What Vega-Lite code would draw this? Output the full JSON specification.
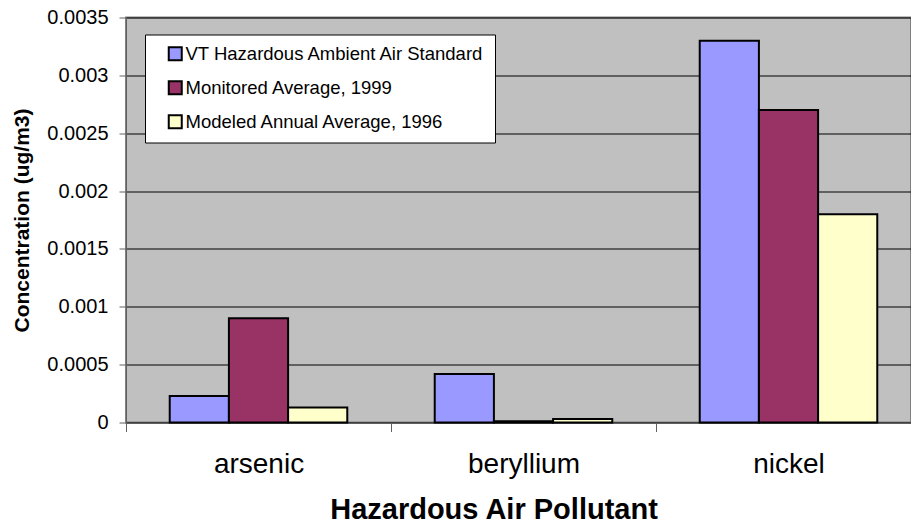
{
  "$schema": "https://vega.github.io/schema/vega-lite/v6.json",
  "width": 785,
  "height": 405,
  "autosize": {"type": "none"},
  "padding": {"left": 126, "top": 17.5, "right": 0, "bottom": 104.5},
  "background": "white",
  "config": {
    "font": "Liberation Sans",
    "view": {"fill": "#C0C0C0", "stroke": "#808080", "strokeWidth": 2}
  },
  "data": {
    "values": [
      {"pollutant": "arsenic", "series": "VT Hazardous Ambient Air Standard", "value": 0.00023},
      {"pollutant": "arsenic", "series": "Monitored Average, 1999", "value": 0.0009},
      {"pollutant": "arsenic", "series": "Modeled Annual Average, 1996", "value": 0.00013},
      {"pollutant": "beryllium", "series": "VT Hazardous Ambient Air Standard", "value": 0.00042},
      {"pollutant": "beryllium", "series": "Monitored Average, 1999", "value": 0.00001},
      {"pollutant": "beryllium", "series": "Modeled Annual Average, 1996", "value": 0.00003},
      {"pollutant": "nickel", "series": "VT Hazardous Ambient Air Standard", "value": 0.0033},
      {"pollutant": "nickel", "series": "Monitored Average, 1999", "value": 0.0027},
      {"pollutant": "nickel", "series": "Modeled Annual Average, 1996", "value": 0.0018}
    ]
  },
  "mark": {"type": "bar", "stroke": "black", "strokeWidth": 2},
  "encoding": {
    "x": {
      "field": "pollutant",
      "type": "nominal",
      "sort": ["arsenic", "beryllium", "nickel"],
      "scale": {"range": [0, 795], "paddingInner": 0.33, "paddingOuter": 0.165},
      "axis": {
        "title": "Hazardous Air Pollutant",
        "labelAngle": 0,
        "labelFontSize": 28,
        "labelColor": "black",
        "labelBaseline": "alphabetic",
        "labelPadding": 41,
        "tickSize": 9,
        "tickColor": "#606060",
        "tickOffset": -132.5,
        "labelOffset": 132.5,
        "domain": false,
        "titleFontSize": 29,
        "titleFontWeight": "bold",
        "titleColor": "black",
        "titleX": 367.5,
        "titleY": 95.5,
        "titleAlign": "center",
        "titleBaseline": "alphabetic"
      }
    },
    "xOffset": {
      "field": "series",
      "sort": ["VT Hazardous Ambient Air Standard", "Monitored Average, 1999", "Modeled Annual Average, 1996"],
      "scale": {"paddingInner": 0, "paddingOuter": 0}
    },
    "y": {
      "field": "value",
      "type": "quantitative",
      "scale": {"domain": [0, 0.0035], "nice": false},
      "axis": {
        "title": "Concentration (ug/m3)",
        "values": [0, 0.0005, 0.001, 0.0015, 0.002, 0.0025, 0.003, 0.0035],
        "format": "~g",
        "labelFontSize": 20,
        "labelColor": "black",
        "labelPadding": 11,
        "tickSize": 7,
        "tickColor": "#606060",
        "domain": true,
        "domainColor": "#606060",
        "grid": true,
        "gridColor": "#000000",
        "gridWidth": 1,
        "titleFontSize": 21,
        "titleFontWeight": "bold",
        "titleColor": "black",
        "titleX": -104,
        "titleY": 202.5,
        "titleAngle": 270,
        "titleAlign": "center",
        "titleBaseline": "middle"
      }
    },
    "color": {
      "field": "series",
      "type": "nominal",
      "scale": {
        "domain": ["VT Hazardous Ambient Air Standard", "Monitored Average, 1999", "Modeled Annual Average, 1996"],
        "range": ["#9999FF", "#993366", "#FFFFCC"]
      },
      "legend": {
        "orient": "none",
        "legendX": 19,
        "legendY": 17,
        "title": null,
        "fillColor": "white",
        "strokeColor": "black",
        "padding": 10,
        "symbolOffset": 11,
        "symbolType": "square",
        "symbolSize": 169,
        "symbolStrokeColor": "black",
        "symbolStrokeWidth": 2,
        "symbolOpacity": 1,
        "labelFontSize": 18.5,
        "labelColor": "black",
        "labelOffset": 1,
        "labelLimit": 500,
        "rowPadding": 12
      }
    }
  }
}
